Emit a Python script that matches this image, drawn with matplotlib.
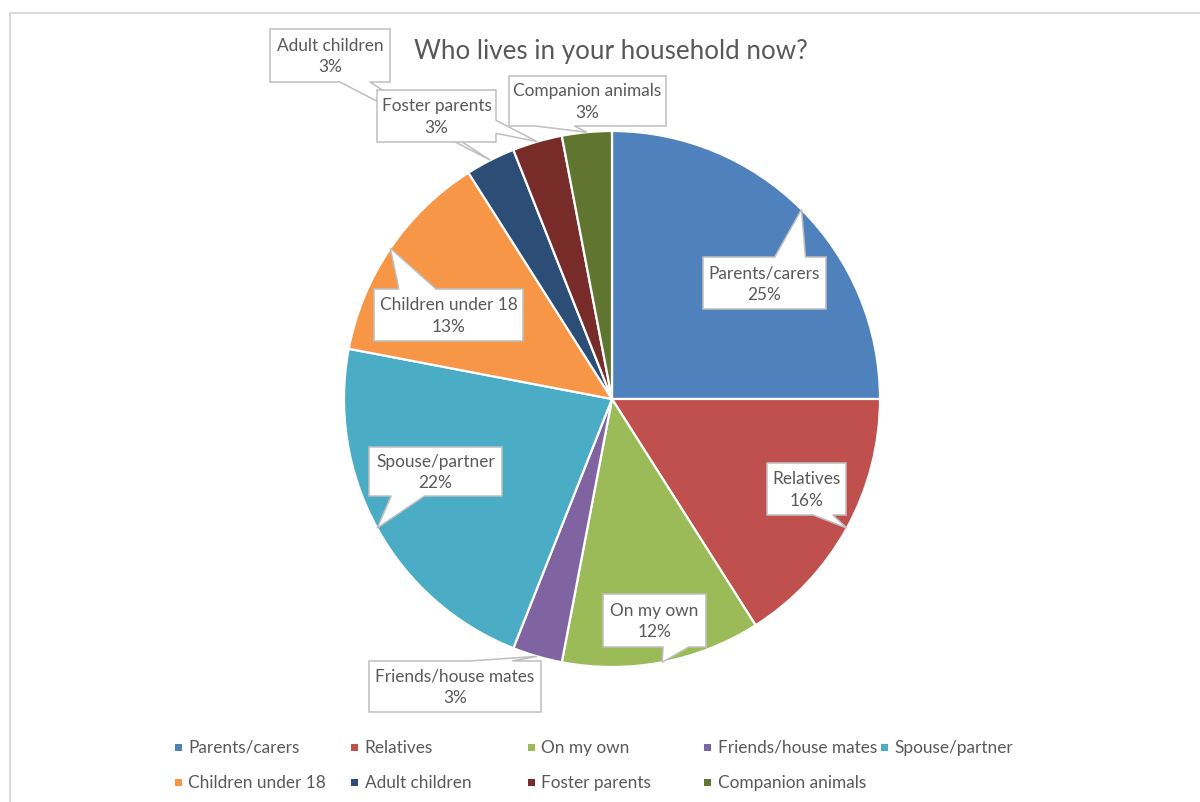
import matplotlib.pyplot as plt
from matplotlib.patches import Polygon, Rectangle
import numpy as np

plt.rcParams['font.family'] = ['Lato', 'DejaVu Sans']

# Household composition (percent of respondents)
categories = ['Parents/carers', 'Relatives', 'On my own', 'Friends/house mates',
              'Spouse/partner', 'Children under 18', 'Adult children',
              'Foster parents', 'Companion animals']
shares = [25, 16, 12, 3, 22, 13, 3, 3, 3]
colors = ['#4F81BD', '#C0504D', '#9BBB59', '#8064A2', '#4BACC6',
          '#F79646', '#2C4D75', '#772C2A', '#5F7530']

# label boxes: left, top, right, bottom in pixels from the top-left corner
boxes = [(703, 258, 826, 310), (767, 464, 846, 516), (603, 595, 706, 648),
         (369, 662, 541, 713), (369, 448, 502, 497), (374, 290, 523, 342),
         (270, 30, 390, 83), (377, 91, 496, 143), (509, 77, 666, 127)]

W, H = 1200, 803
fig = plt.figure(figsize=(W / 100, H / 100), dpi=100)
ax = fig.add_axes([0, 0, 1, 1])

def py(y):
    # pixel row (from the top) -> data y
    return H - y

wedges, _ = ax.pie(shares, colors=colors, startangle=90, counterclock=False,
                   center=(612, py(400)), radius=268,
                   wedgeprops=dict(edgecolor='white', linewidth=1.6))
ax.set_xlim(0, W)
ax.set_ylim(0, H)
ax.set_aspect('equal')
ax.axis('off')

text_col = '#595959'


def callout_vertices(box, tip):
    # rectangle with a wedge pointer, same geometry as office "wedgeRectCallout"
    l, t, r, b = box
    w, h = r - l, b - t
    cx, cy = (l + r) / 2, (t + b) / 2
    dx, dy = tip[0] - cx, tip[1] - cy
    dq = dx * h / w
    xg1 = l + w * (7 if dx > 0 else 2) / 12
    xg2 = l + w * (10 if dx > 0 else 5) / 12
    yg1 = t + h * (7 if dy > 0 else 2) / 12
    yg2 = t + h * (10 if dy > 0 else 5) / 12
    vert_side = abs(dy) > abs(dq)
    pts = [(l, t)]
    if vert_side and dy < 0:
        pts += [(xg1, t), tip, (xg2, t)]
    pts.append((r, t))
    if not vert_side and dx > 0:
        pts += [(r, yg1), tip, (r, yg2)]
    pts.append((r, b))
    if vert_side and dy > 0:
        pts += [(xg2, b), tip, (xg1, b)]
    pts.append((l, b))
    if not vert_side and dx < 0:
        pts += [(l, yg2), tip, (l, yg1)]
    return [(x, py(y)) for x, y in pts]


for wdg, name, val, box in zip(wedges, categories, shares, boxes):
    mid = np.deg2rad((wdg.theta1 + wdg.theta2) / 2)
    cx, cy = wdg.center
    tip = (cx + wdg.r * np.cos(mid), py(cy + wdg.r * np.sin(mid)))
    poly = Polygon(callout_vertices(box, tip), closed=True, facecolor='white',
                   edgecolor='#BFBFBF', linewidth=1.1, zorder=5)
    ax.add_patch(poly)
    ax.text((box[0] + box[2]) / 2, py((box[1] + box[3]) / 2), f'{name}\n{val}%',
            ha='center', va='center', fontsize=12.4, color=text_col,
            linespacing=1.45, zorder=6)

# title
ax.text(611, py(51), 'Who lives in your household now?', ha='center',
        va='center', fontsize=18.7, color=text_col)

# legend, five entries per row
for i, (name, c) in enumerate(zip(categories, colors)):
    row, col = divmod(i, 5)
    x0 = 178 + col * 176.5
    y0 = 748 + row * 35
    ax.add_patch(Rectangle((x0 - 3.5, py(y0) - 3.5), 7, 7, facecolor=c,
                           edgecolor='none'))
    ax.text(x0 + 10, py(y0), name, ha='left', va='center', fontsize=12.4,
            color=text_col)

# chart area border (left and top edges)
ax.plot([10, 10, W], [0, py(14), py(14)], color='#D9D9D9', linewidth=1.4,
        solid_joinstyle='miter', clip_on=False)

fig.savefig('out.png', dpi=100, facecolor='white')
